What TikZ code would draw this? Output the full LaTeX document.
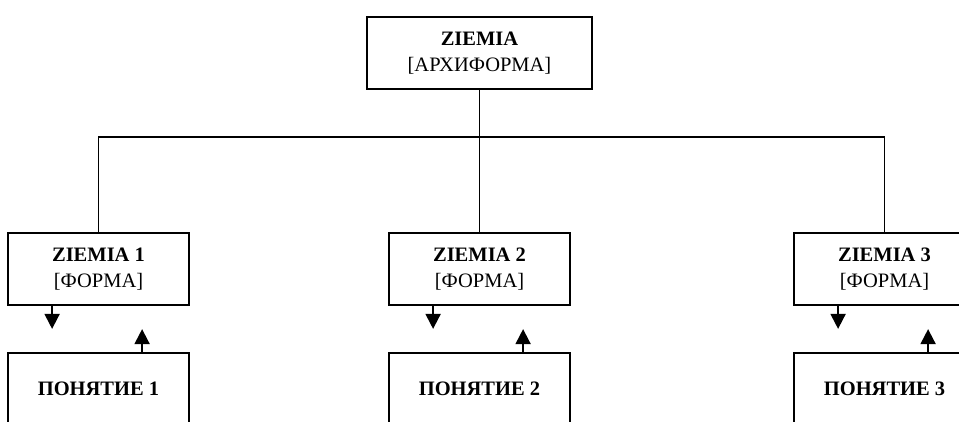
\documentclass[tikz,border=0pt]{standalone}
\usepackage{fontspec}
\setmainfont{Liberation Serif}
\usetikzlibrary{arrows.meta}
\begin{document}
\begin{tikzpicture}[x=1pt,y=-1pt,
  box/.style={draw, line width=1.8pt, minimum width=181pt, minimum height=72pt,
    inner sep=0pt, align=center, font=\fontsize{20.5}{25.5}\selectfont},
  conn/.style={line width=1.8pt},
  arr/.style={line width=1.8pt, -{Triangle[width=15pt,length=15pt]}}]
\fill[white] (0,0) rectangle (959,421);
\useasboundingbox (0,0) rectangle (959,421);
\clip (0,0) rectangle (959,421);
\node[box, minimum width=225pt] (top) at (479.5,53) {\textbf{ZIEMIA}\\ {[АРХИФОРМА]}};
\node[box] (z1) at (98.5,269) {\textbf{ZIEMIA 1}\\ {[ФОРМА]}};
\node[box] (z2) at (479.5,269) {\textbf{ZIEMIA 2}\\ {[ФОРМА]}};
\node[box] (z3) at (884.5,269) {\textbf{ZIEMIA 3}\\ {[ФОРМА]}};
\node[box] (p1) at (98.5,389) {\textbf{ПОНЯТИЕ 1}};
\node[box] (p2) at (479.5,389) {\textbf{ПОНЯТИЕ 2}};
\node[box] (p3) at (884.5,389) {\textbf{ПОНЯТИЕ 3}};
\coordinate (j) at (479.5,137);
\draw[conn] (top.south) -- (j);
\draw[conn] (z1.north) |- (j) -| (z3.north);
\draw[conn] (j) -- (z2.north);
\foreach \i in {1,2,3}{
  \draw[arr] ([xshift=45pt]z\i.south west) -- ([xshift=45pt,yshift=-23pt]z\i.south west);
  \draw[arr] ([xshift=135pt]p\i.north west) -- ([xshift=135pt,yshift=23pt]p\i.north west);
}
\end{tikzpicture}
\end{document}
